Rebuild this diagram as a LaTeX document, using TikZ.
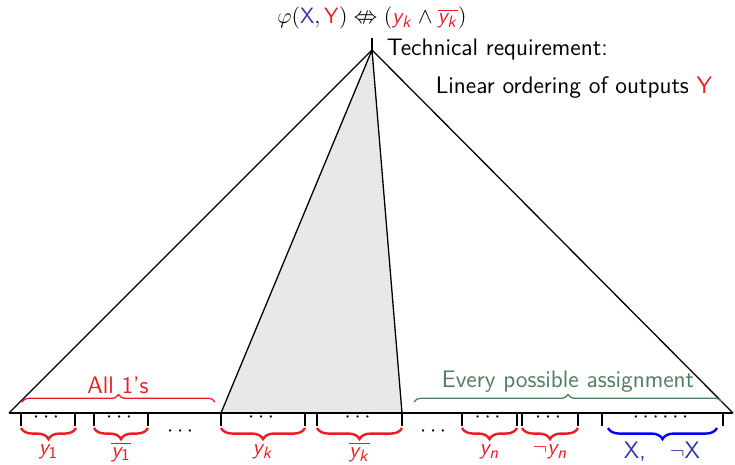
\documentclass[tikz,border=0pt]{standalone}
\usepackage{amsmath,amssymb}
\usepackage{tikz}
\usetikzlibrary{decorations.pathreplacing}

\DeclareMathAlphabet{\mathsfit}{OT1}{cmss}{m}{sl}
\newcommand{\yv}[1]{\mathsfit{y}_{#1}}

\definecolor{outred}{RGB}{237,28,36}
\definecolor{inblue}{RGB}{50,55,175}
\definecolor{assgreen}{RGB}{80,125,95}

\begin{document}
\begin{tikzpicture}[x=0.019cm,y=-0.019cm,line width=0.7pt,
  font=\sffamily\fontsize{12.9}{15}\selectfont,
  tickline/.style={line width=0.9pt},
  lowbrace/.style={decorate,decoration={brace,mirror,amplitude=6pt},line width=1.3pt},
  highbrace/.style={decorate,decoration={brace,amplitude=4pt},line width=0.7pt}]
  \useasboundingbox (0,0) rectangle (735,464);
  % the two triangles
  \coordinate (apex) at (372,50);
  \coordinate (top) at (372,38);
  \coordinate (bl) at (9,413);
  \coordinate (br) at (733,413);
  \coordinate (gl) at (221,413);
  \coordinate (gr) at (402,413);
  \fill[gray!18] (apex) -- (gl) -- (gr) -- cycle;
  \draw (bl) -- (apex) -- (br);
  \draw (gl) -- (apex) -- (gr);
  \draw (bl) -- (br);
  \draw (apex) -- (top);
  \node (phi) at (372,18) {$\varphi(\textcolor{inblue}{\mathsf{X}},\textcolor{outred}{\mathsf{Y}}) \nLeftrightarrow (\textcolor{outred}{\yv{\mathsfit{k}}} \wedge \textcolor{outred}{\overline{\yv{\mathsfit{k}}}})$};
  \node[anchor=west] (tech) at (380,50) {Technical requirement:};
  \node[anchor=west] (order) at (429,88) {Linear ordering of outputs \textcolor{outred}{Y}};
  % the blocks of the assignment
  \foreach \l/\r/\dts/\name in {21/75/{$\cdots$}/a, 94/148/{$\cdots$}/b, 221/305/{$\cdots$}/c, 317/402/{$\cdots$}/d, 462/517/{$\cdots$}/e, 522/578/{$\cdots$}/f, 602/723/{$\cdots\cdots$}/g} {
    \draw[tickline] (\l,413) -- (\l,426);
    \draw[tickline] (\r,413) -- (\r,426);
    \node[inner sep=0pt] (dots\name) at ({(\l+\r)/2},418) {\dts};
  }
  \node (gapa) at (182,432) {$\cdots$};
  \node (gapb) at (435,432) {$\cdots$};
  % braces under the blocks
  \foreach \l/\r/\lab/\name in {21/76/{$\yv{\mathsf{1}}$}/a, 94/148/{$\overline{\yv{\mathsf{1}}}$}/b, 221/305/{$\yv{\mathsfit{k}}$}/c, 317/402/{$\overline{\yv{\mathsfit{k}}}$}/d, 462/517/{$\yv{\mathsfit{n}}$}/e, 522/578/{$\neg\yv{\mathsfit{n}}$}/f} {
    \draw[lowbrace,outred] (\l,428) -- (\r,428);
    \node[outred] (lab\name) at ({(\l+\r)/2},452) {\lab};
  }
  \draw[lowbrace,blue] (608,428) -- (717,428);
  \node[inblue] (labg) at (662,452) {X,\quad$\neg$X};
  % braces above the base line
  \draw[highbrace,outred] (22,402) -- (215,402);
  \node[outred] (ones) at (118,385) {All 1's};
  \draw[highbrace,assgreen] (414,402) -- (722,402);
  \node[assgreen] (every) at (568,382) {Every possible assignment};
\end{tikzpicture}
\end{document}
